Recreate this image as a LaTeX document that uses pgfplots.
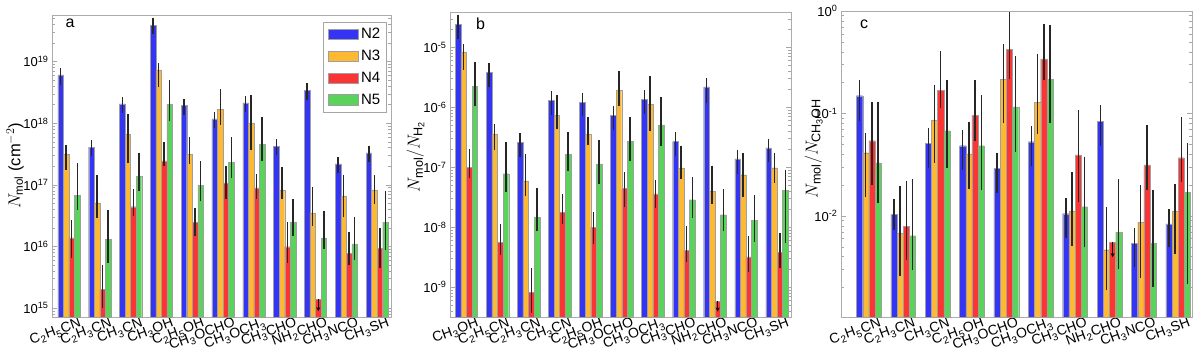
\documentclass[border=0pt]{standalone}
\usepackage{fontspec}
\setmainfont{Liberation Sans}
\usepackage{pgfplots}
\pgfplotsset{compat=1.18}
\usepackage{pgfplotstable}
\usetikzlibrary{arrows.meta}

\definecolor{cNtwo}{HTML}{3434F4}
\definecolor{cNthree}{HTML}{FDB834}
\definecolor{cNfour}{HTML}{FB3434}
\definecolor{cNfive}{HTML}{5AD35A}

% panel a: N_mol (cm^-2)
\pgfplotstableread{
x n2 n2lo n2hi n3 n3lo n3hi n4 n4lo n4hi n5 n5lo n5hi
0 6.1e18 4.2e18 7.8e18 3.14e17 1.75e17 4.5e17 1.37e16 6.5e15 2.7e16 6.8e16 3.9e16 2.24e17
1 4.1e17 2.9e17 5.4e17 5.1e16 2.9e16 1.45e17 2.0e15 1.0e15 4.9e15 1.3e16 5.4e15 3.9e16
2 2.05e18 1.45e18 2.63e18 6.6e17 2.24e17 1.42e18 4.4e16 3.1e16 8.5e16 1.38e17 7.8e16 3.3e17
3 3.9e19 2.77e19 5.0e19 7.3e18 3.9e18 9.6e18 2.45e17 2.0e17 4.9e17 2.0e18 1.07e18 5.0e18
4 1.96e18 1.36e18 2.5e18 3.1e17 2.2e17 6.0e17 2.45e16 1.45e16 4.2e16 9.8e16 5.4e16 2.4e17
5 1.17e18 8.3e17 1.5e18 1.66e18 9.4e17 3.55e18 1.07e17 5.9e16 2.04e17 2.34e17 1.29e17 5.9e17
6 2.14e18 1.49e18 2.77e18 9.9e17 3.7e17 2.9e18 8.9e16 5.9e16 1.49e17 4.5e17 2.4e17 1.25e18
7 4.25e17 3.1e17 5.5e17 8.3e16 5.9e16 1.94e17 9.9e15 5.4e15 2.45e16 2.5e16 1.48e16 5.9e16
8 3.4e18 2.4e18 4.45e18 3.5e16 2.16e16 9.1e16 1.4e15 1.4e15 1.4e15 1.37e16 9.1e15 3.7e16
9 2.19e17 1.55e17 2.8e17 6.6e16 2.95e16 1.45e17 7.8e15 4.9e15 1.7e16 1.1e16 6.0e15 3.0e16
10 3.3e17 2.34e17 4.3e17 8.3e16 4.9e16 1.45e17 9.3e15 4.4e15 2.0e16 2.45e16 8.6e15 7.8e16
}\tabA

% panel b: N_mol / N_H2
\pgfplotstableread{
x n2 n2lo n2hi n3 n3lo n3hi n4 n4lo n4hi n5 n5lo n5hi
0 2.45e-5 1.38e-5 3.5e-5 8.4e-6 4.2e-6 1.14e-5 9.9e-8 6.6e-8 2.0e-7 2.23e-6 1.03e-6 5.8e-6
1 3.83e-6 2.15e-6 5.5e-6 3.58e-7 1.96e-7 5.25e-7 5.6e-9 3.47e-9 1.14e-8 7.8e-8 3.8e-8 2.6e-7
2 2.6e-7 1.48e-7 3.7e-7 5.9e-8 3.26e-8 1.68e-7 8.1e-10 3.7e-10 2.07e-9 1.47e-8 8.5e-9 4.5e-8
3 1.29e-6 7.3e-7 1.85e-6 7.5e-7 4.3e-7 1.62e-6 1.76e-8 1.12e-8 3.56e-8 1.62e-7 8.5e-8 3.87e-7
4 1.22e-6 7.05e-7 1.73e-6 3.5e-7 2.38e-7 7.0e-7 1.0e-8 5.2e-9 1.76e-8 1.14e-7 5.25e-8 2.8e-7
5 7.4e-7 4.1e-7 1.06e-6 1.94e-6 1.06e-6 4.1e-6 4.4e-8 2.16e-8 8.3e-8 2.7e-7 1.25e-7 6.9e-7
6 1.37e-6 7.7e-7 1.96e-6 1.13e-6 3.96e-7 3.36e-6 3.6e-8 2.08e-8 6.2e-8 5.06e-7 2.3e-7 1.47e-6
7 2.67e-7 1.52e-7 3.8e-7 9.7e-8 6.4e-8 2.28e-7 4.1e-9 2.6e-9 1.03e-8 2.87e-8 1.42e-8 6.9e-8
8 2.18e-6 1.18e-6 3.1e-6 4.0e-8 2.46e-8 1.06e-7 5.8e-10 5.8e-10 5.8e-10 1.61e-8 8.7e-9 4.3e-8
9 1.37e-7 7.8e-8 1.96e-7 7.5e-8 3.2e-8 1.74e-7 3.2e-9 1.8e-9 7.0e-9 1.29e-8 5.75e-9 3.5e-8
10 2.1e-7 1.2e-7 3.0e-7 9.8e-8 5.5e-8 1.74e-7 3.8e-9 2.1e-9 8.1e-9 4.1e-8 5.4e-9 9.1e-8
}\tabB

% panel c: N_mol / N_CH3OH
\pgfplotstableread{
x n2 n2lo n2hi n3 n3lo n3hi n4 n4lo n4hi n5 n5lo n5hi
0 0.149 0.085 0.211 0.0414 0.0152 0.0638 0.0542 0.020 0.130 0.033 0.0133 0.130
1 0.0103 0.0073 0.0147 0.0068 0.00257 0.0196 0.0079 0.00367 0.0219 0.0064 0.00294 0.0229
2 0.051 0.0296 0.0714 0.086 0.033 0.189 0.169 0.114 0.405 0.0678 0.0296 0.211
3 0.0484 0.0281 0.0688 0.0402 0.0183 0.0817 0.0964 0.0542 0.211 0.0484 0.0177 0.151
4 0.0291 0.0169 0.0414 0.216 0.080 0.474 0.42 0.216 0.978 0.116 0.0423 0.362
5 0.053 0.031 0.0758 0.128 0.063 0.384 0.34 0.211 0.753 0.216 0.080 0.736
6 0.0105 0.00606 0.0149 0.0112 0.00503 0.0266 0.0393 0.0136 0.108 0.0123 0.00492 0.0378
7 0.0842 0.0484 0.120 0.00467 0.0019 0.0123 0.00554 0.00554 0.00554 0.00693 0.00303 0.0228
8 0.00542 0.00314 0.0077 0.00867 0.00247 0.020 0.0314 0.0179 0.077 0.00542 0.00202 0.0179
9 0.00836 0.00492 0.0117 0.0112 0.00424 0.0203 0.037 0.0213 0.0914 0.017 0.00218 0.0518
}\tabC

\pgfplotstableread{
x y em
8 1.4e15 5.1e14
}\ulA
\pgfplotstableread{
x y em
8 5.8e-10 1.9e-10
}\ulB
\pgfplotstableread{
x y em
7 0.00554 0.00158
}\ulC

\newcommand{\sub}[1]{\kern0.3pt\raisebox{-3.2pt}{\fontsize{10}{10}\selectfont #1}\kern0.6pt}

\newcommand{\bars}[4]{%
  \addplot[forget plot, fill=#4, draw=gray!75, line width=0.3pt,
    error bars/.cd, y dir=both, y explicit, error mark=none,
    error bar style={line width=1.4pt, black!85}]
    table[x expr=\thisrow{x}+#3, y=#2,
    y error plus expr=\thisrow{#2hi}-\thisrow{#2},
    y error minus expr=\thisrow{#2}-\thisrow{#2lo}] {#1};}

\newcommand{\upperlim}[1]{%
  \addplot[forget plot, draw=none, fill=none,
    error bars/.cd, y dir=minus, y explicit, error mark=none,
    error bar style={line width=1.2pt, black, -{Stealth[length=4pt,width=4pt]}}]
    table[x expr=\thisrow{x}+0.09, y=y, y error minus=em] {#1};}

\begin{document}
\begin{tikzpicture}
\useasboundingbox (0,0) rectangle (1200pt,355pt);

% ---------------- panel a
\begin{axis}[
  scale only axis, ymode=log, log origin y=infty, clip=false,
  ybar, bar width=0.18, bar shift=0pt,
  axis line style={gray!65, line width=0.7pt},
  tick align=inside,
  major x tick style={draw=none}, minor x tick style={draw=none},
  y tick style={gray!70, line width=0.4pt},
  major tick length=5pt, minor tick length=3pt,
  yticklabel={\pgfmathparse{int(round(\tick/2.302585093))}10\textsuperscript{\pgfmathresult}},
  yticklabel style={font=\fontsize{13}{14}\selectfont},
  xticklabel style={font=\fontsize{14}{15}\selectfont, rotate=20, anchor=north east, inner sep=1pt, xshift=10pt, yshift=-2pt},
  at={(52pt,38pt)}, anchor=south west, width=339pt, height=302pt,
  xmin=-0.55, xmax=10.45, ymin=7.15e14, ymax=5.7e19,
  xtick={0,...,10},
  xticklabels={C\sub{2}H\sub{5}CN, C\sub{2}H\sub{3}CN, CH\sub{3}CN, CH\sub{3}OH, C\sub{2}H\sub{5}OH, CH\sub{3}OCHO, CH\sub{3}OCH\sub{3}, CH\sub{3}CHO, NH\sub{2}CHO, CH\sub{3}NCO, CH\sub{3}SH},
  legend style={at={(0.987,0.977)}, anchor=north east, draw=gray!70, line width=0.7pt,
    font=\fontsize{15}{15}\selectfont, inner xsep=4pt, inner ysep=4pt, row sep=6pt},
  legend cell align=left,
  legend image post style={scale=1.8},
]
\addlegendimage{area legend, fill=cNtwo, draw=gray!75}
\addlegendentry{N2}
\addlegendimage{area legend, fill=cNthree, draw=gray!75}
\addlegendentry{N3}
\addlegendimage{area legend, fill=cNfour, draw=gray!75}
\addlegendentry{N4}
\addlegendimage{area legend, fill=cNfive, draw=gray!75}
\addlegendentry{N5}
\bars{\tabA}{n2}{-0.27}{cNtwo}
\bars{\tabA}{n3}{-0.09}{cNthree}
\bars{\tabA}{n4}{0.09}{cNfour}
\bars{\tabA}{n5}{0.27}{cNfive}
\upperlim{\ulA}
\node[anchor=base west, font=\fontsize{16}{16}\selectfont] at (rel axis cs:0.0295,0.957) {a};
\node[rotate=90, anchor=center, font=\fontsize{16.5}{18}\selectfont] at (rel axis cs:-0.109,0.5) {$N_{\mathrm{mol}}$ (cm$^{-2}$)};
\end{axis}

% ---------------- panel b
\begin{axis}[
  scale only axis, ymode=log, log origin y=infty, clip=false,
  ybar, bar width=0.18, bar shift=0pt,
  axis line style={gray!65, line width=0.7pt},
  tick align=inside,
  major x tick style={draw=none}, minor x tick style={draw=none},
  y tick style={gray!70, line width=0.4pt},
  major tick length=5pt, minor tick length=3pt,
  yticklabel={\pgfmathparse{int(round(\tick/2.302585093))}10\textsuperscript{\pgfmathresult}},
  yticklabel style={font=\fontsize{13}{14}\selectfont},
  xticklabel style={font=\fontsize{14}{15}\selectfont, rotate=20, anchor=north east, inner sep=1pt, xshift=10pt, yshift=-2pt},
  at={(450pt,38pt)}, anchor=south west, width=341pt, height=305pt,
  xmin=-0.53, xmax=10.45, ymin=3.16e-10, ymax=3.89e-5,
  xtick={0,...,10},
  xticklabels={CH\sub{3}OH, C\sub{2}H\sub{5}CN, C\sub{2}H\sub{3}CN, CH\sub{3}CN, C\sub{2}H\sub{5}OH, CH\sub{3}OCHO, CH\sub{3}OCH\sub{3}, CH\sub{3}CHO, NH\sub{2}CHO, CH\sub{3}NCO, CH\sub{3}SH},
]
\bars{\tabB}{n2}{-0.27}{cNtwo}
\bars{\tabB}{n3}{-0.09}{cNthree}
\bars{\tabB}{n4}{0.09}{cNfour}
\bars{\tabB}{n5}{0.27}{cNfive}
\upperlim{\ulB}
\node[anchor=base west, font=\fontsize{16}{16}\selectfont] at (rel axis cs:0.0666,0.941) {b};
\node[rotate=90, anchor=center, font=\fontsize{18}{20}\selectfont] at (rel axis cs:-0.101,0.526) {$N_{\mathrm{mol}}/N_{\mathrm{H_2}}$};
\end{axis}

% ---------------- panel c
\begin{axis}[
  scale only axis, ymode=log, log origin y=infty, clip=false,
  ybar, bar width=0.18, bar shift=0pt,
  axis line style={gray!65, line width=0.7pt},
  tick align=inside,
  major x tick style={draw=none}, minor x tick style={draw=none},
  y tick style={gray!70, line width=0.4pt},
  major tick length=5pt, minor tick length=3pt,
  yticklabel={\pgfmathparse{int(round(\tick/2.302585093))}10\textsuperscript{\pgfmathresult}},
  yticklabel style={font=\fontsize{13}{14}\selectfont},
  xticklabel style={font=\fontsize{14}{15}\selectfont, rotate=20, anchor=north east, inner sep=1pt, xshift=10pt, yshift=-2pt},
  at={(841pt,38pt)}, anchor=south west, width=351pt, height=306pt,
  xmin=-0.81, xmax=9.4, ymin=1.03e-3, ymax=1,
  xtick={0,...,9},
  xticklabels={C\sub{2}H\sub{5}CN, C\sub{2}H\sub{3}CN, CH\sub{3}CN, C\sub{2}H\sub{5}OH, CH\sub{3}OCHO, CH\sub{3}OCH\sub{3}, CH\sub{3}CHO, NH\sub{2}CHO, CH\sub{3}NCO, CH\sub{3}SH},
]
\bars{\tabC}{n2}{-0.27}{cNtwo}
\bars{\tabC}{n3}{-0.09}{cNthree}
\bars{\tabC}{n4}{0.09}{cNfour}
\bars{\tabC}{n5}{0.27}{cNfive}
\upperlim{\ulC}
\node[anchor=base west, font=\fontsize{16}{16}\selectfont] at (rel axis cs:0.0447,0.942) {c};
\node[rotate=90, anchor=center, font=\fontsize{18}{20}\selectfont] at (rel axis cs:-0.078,0.55) {$N_{\mathrm{mol}}/N_{\mathrm{CH_3OH}}$};
\end{axis}
\end{tikzpicture}
\end{document}
